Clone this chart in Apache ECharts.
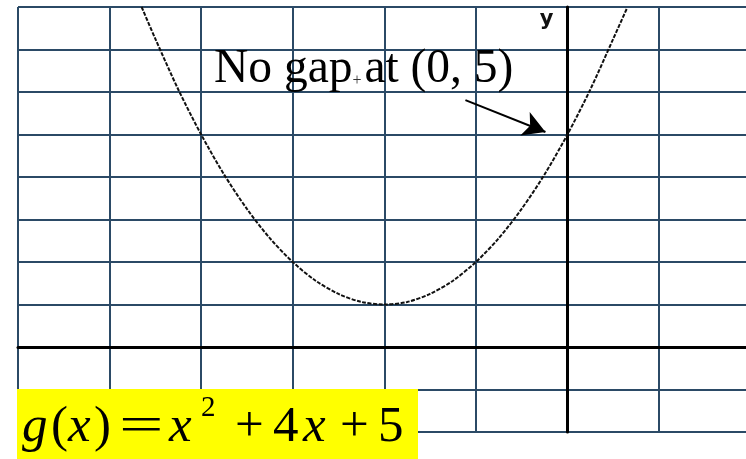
<!DOCTYPE html>
<html><head><meta charset="utf-8">
<script src="https://cdn.jsdelivr.net/npm/echarts@6/dist/echarts.min.js"></script>
<style>html,body{margin:0;padding:0;background:#fff}#c{width:746px;height:459px}</style>
</head><body><div id="c"></div>
<script>
// x and g(x) values
const xValues = [-4.65, -4.5, -4.25, -4, -3.75, -3.5, -3.25, -3, -2.75, -2.5, -2.25, -2, -1.75, -1.5, -1.25, -1, -0.75, -0.5, -0.25, 0, 0.25, 0.5, 0.65];
const yValues = [8.0, 7.25, 6.06, 5, 4.06, 3.25, 2.56, 2, 1.56, 1.25, 1.06, 1, 1.06, 1.25, 1.56, 2, 2.56, 3.25, 4.06, 5, 6.06, 7.25, 7.97];
const xRange = [-6, 1.95];
const yRange = [-2, 8];
const tickStep = 1;
const annotationText = 'No gap at (0, 5)';
const arrowStart = [-1.114, 5.81];
const arrowEnd = [-0.24, 5.06];
const yAxisName = 'y';
const equationPieces = [
  {t: 'g', x: 22, it: true}, {t: '(', x: 51}, {t: 'x', x: 68, it: true}, {t: ')', x: 94},
  {t: '=', x: 119, sx: 1.55}, {t: 'x', x: 169, it: true}, {t: '2', x: 201, sup: true},
  {t: '+', x: 235}, {t: '4', x: 273}, {t: 'x', x: 303, it: true}, {t: '+', x: 340}, {t: '5', x: 378}
];

const curve = xValues.map((x, i) => [x, yValues[i]]);
const serif = '"Liberation Serif", "Times New Roman", serif';
const gridColor = '#2b4a66';

const chart = echarts.init(document.getElementById('c'), null, {renderer: 'canvas'});
const eqGraphics = equationPieces.map(p => ({
  type: 'text', z: 101, x: p.x, y: p.sup ? 408 : 428,
  scaleX: p.sx || 1,
  style: {
    text: p.t, fill: '#000', align: 'left', verticalAlign: 'middle',
    font: (p.it ? 'italic ' : '') + (p.sup ? 29 : 51) + 'px ' + serif
  }
}));
chart.setOption({
  animation: false,
  backgroundColor: '#fff',
  grid: {left: 18, right: 0, top: 7, bottom: 27},
  xAxis: {
    type: 'value', min: xRange[0], max: xRange[1], interval: tickStep,
    axisLine: {show: true, onZero: true, lineStyle: {color: '#000', width: 3}},
    axisTick: {show: false}, axisLabel: {show: false},
    splitLine: {show: true, showMaxLine: false, lineStyle: {color: gridColor, width: 2}}
  },
  yAxis: {
    type: 'value', min: yRange[0], max: yRange[1], interval: tickStep,
    name: yAxisName, nameLocation: 'end', nameGap: -13,
    nameTextStyle: {fontFamily: '"DejaVu Sans", sans-serif', fontWeight: 'bold', fontSize: 21, color: '#111', align: 'right', verticalAlign: 'middle', padding: [0, 14, 0, 0]},
    axisLine: {show: true, onZero: true, lineStyle: {color: '#000', width: 3}},
    axisTick: {show: false}, axisLabel: {show: false},
    splitLine: {show: true, lineStyle: {color: gridColor, width: 2}}
  },
  series: [{
    type: 'line', data: curve, smooth: 0.3, showSymbol: false, symbol: 'none',
    lineStyle: {color: '#111', width: 2, type: [4, 1.5]},
    markLine: {
      silent: true, symbol: ['none', 'arrow'], symbolSize: [19, 22],
      label: {show: false},
      lineStyle: {color: '#000', width: 2, type: 'solid'},
      data: [[{coord: arrowStart}, {coord: arrowEnd}]]
    }
  }],
  graphic: [
    {type: 'rect', z: 100, shape: {x: 17, y: 389, width: 401, height: 70}, style: {fill: '#ffff00'}},
    ...eqGraphics,
    {type: 'text', z: 101, x: 214, y: 70, style: {text: annotationText, fill: '#000', align: 'left', verticalAlign: 'middle', font: '47.5px ' + serif}},
    {type: 'text', z: 102, x: 357, y: 81, style: {text: '+', fill: '#333', align: 'center', verticalAlign: 'middle', font: '16px ' + serif}}
  ]
});
</script></body></html>
